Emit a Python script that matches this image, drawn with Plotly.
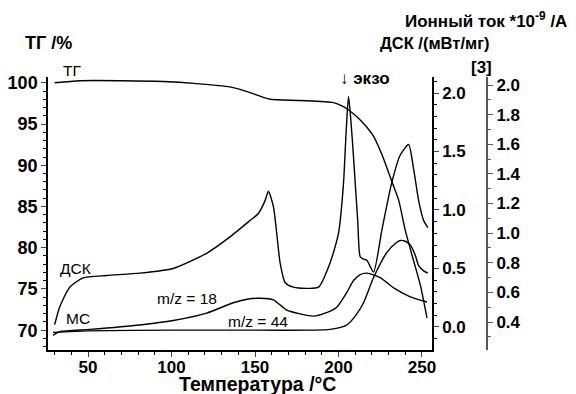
import plotly.graph_objects as go

# TG (%)
tg_T = [30, 45, 70, 95, 115, 135, 141, 150, 159, 177, 197, 203, 208, 213, 217, 221, 226, 232, 236, 240, 245, 249, 253]
tg_v = [100.0, 100.25, 100.25, 100.15, 99.9, 99.5, 99.2, 98.6, 98.0, 97.85, 97.6, 97.1, 96.4, 95.5, 94.6, 93.5, 91.3, 88.0, 85.8, 82.1, 78.4, 75.5, 71.5]

# DSC (mW/mg)
dsc_T = [30, 33, 39, 47, 61, 81, 101, 121, 135, 147, 152, 156, 158, 161, 163, 165, 168, 173, 182, 188, 195, 200, 203,
         204.5, 206, 207.5, 209, 211.5, 213, 215, 217, 221, 226, 232, 237, 242, 245, 248, 251, 253.5]
dsc_v = [0.02, 0.17, 0.34, 0.42, 0.44, 0.46, 0.50, 0.63, 0.77, 0.91, 0.97, 1.08, 1.16, 1.03, 0.80, 0.55, 0.38, 0.34, 0.33, 0.34,
         0.55, 0.80, 1.23, 1.65, 1.97, 1.75, 1.45, 0.91, 0.60, 0.58, 0.57, 0.47, 0.83, 1.24, 1.47, 1.56, 1.35, 1.08, 0.91, 0.85]

# MS m/z = 18 (ion current *1e-9 A)
ms18_T = [29, 33, 51, 81, 101, 121, 137, 146, 153, 161, 169, 177, 185, 192, 199, 205, 209, 213, 217, 225, 233, 243, 253]
ms18_v = [0.31, 0.335, 0.35, 0.38, 0.41, 0.46, 0.53, 0.555, 0.56, 0.55, 0.48, 0.455, 0.44, 0.46, 0.50, 0.60, 0.68, 0.72, 0.73, 0.70, 0.63, 0.57, 0.535]

# MS m/z = 44
ms44_T = [29, 50, 100, 150, 185, 195, 200, 205, 210, 215, 221, 229, 234, 237, 240, 243, 246, 248, 251, 253.5]
ms44_v = [0.33, 0.34, 0.345, 0.345, 0.345, 0.35, 0.36, 0.38, 0.44, 0.53, 0.70, 0.87, 0.93, 0.95, 0.945, 0.92, 0.85, 0.78, 0.745, 0.73]

x_ticks = [50, 100, 150, 200, 250]
tg_ticks = [70, 75, 80, 85, 90, 95, 100]
dsc_ticks = [0.0, 0.5, 1.0, 1.5, 2.0]
ion_ticks = [0.4, 0.6, 0.8, 1.0, 1.2, 1.4, 1.6, 1.8, 2.0]

FONT = "Liberation Sans, Arial, sans-serif"
line = dict(color="black", width=1.4, shape="spline", smoothing=0.6)

fig = go.Figure()
fig.add_trace(go.Scatter(x=tg_T, y=tg_v, mode="lines", line=line, yaxis="y", showlegend=False))
fig.add_trace(go.Scatter(x=dsc_T, y=dsc_v, mode="lines", line=line, yaxis="y2", showlegend=False))
fig.add_trace(go.Scatter(x=ms18_T, y=ms18_v, mode="lines", line=line, yaxis="y3", showlegend=False))
fig.add_trace(go.Scatter(x=ms44_T, y=ms44_v, mode="lines", line=line, yaxis="y3", showlegend=False))

fig.update_layout(
    width=568, height=386,
    margin=dict(l=40, r=72, t=69, b=44, autoexpand=False),
    paper_bgcolor="white", plot_bgcolor="white",
    font=dict(family=FONT, color="black"),
    xaxis=dict(domain=[0, 0.8421], range=[26, 256], tickvals=x_ticks, ticks="outside", ticklen=5,
               ticklabelstandoff=-4,
               showline=True, linecolor="black", linewidth=1.5, showgrid=False, zeroline=False, automargin=False,
               tickfont=dict(family=FONT, size=17, color="black", weight="bold"),
               minor=dict(dtick=10, ticks="outside", ticklen=3, tickcolor="black")),
    yaxis=dict(range=[67.6, 100.7], tickvals=tg_ticks, ticks="outside", ticklen=5, automargin=False,
               showline=True, linecolor="black", linewidth=1.5, showgrid=False, zeroline=False,
               tickfont=dict(family=FONT, size=18, color="black", weight="bold"),
               minor=dict(dtick=1, ticks="outside", ticklen=3, tickcolor="black")),
    yaxis2=dict(range=[-0.197, 2.137], tickvals=dsc_ticks, tickformat=".1f", ticks="outside", ticklen=5,
                overlaying="y", side="right", anchor="x", automargin=False,
                showline=True, linecolor="black", linewidth=1.5, showgrid=False, zeroline=False,
                tickfont=dict(family=FONT, size=17, color="black", weight="bold"),
                minor=dict(dtick=0.1, ticks="outside", ticklen=3, tickcolor="black")),
    yaxis3=dict(range=[0.211, 2.054], tickvals=ion_ticks, tickformat=".1f", ticks="outside", ticklen=5,
                overlaying="y", side="right", anchor="free", position=0.9627, automargin=False,
                showline=True, linecolor="#555555", linewidth=2, showgrid=False, zeroline=False,
                tickcolor="#555555",
                tickfont=dict(family=FONT, size=17, color="black", weight="bold"),
                minor=dict(dtick=0.1, ticks="outside", ticklen=3, tickcolor="#555555")),
)

def ann(text, x, y, size=16, xanchor="center", bold=False):
    fig.add_annotation(text=f"<b>{text}</b>" if bold else text, x=x, y=y, xref="paper", yref="paper",
                       xanchor=xanchor, yanchor="middle", showarrow=False,
                       font=dict(family=FONT, size=size, color="black"))

ann("ТГ /%", 0.001, 1.1245, size=18, bold=True)
ann("Ионный ток *10<sup>-9</sup> /A", 1.142, 1.21, size=17, xanchor="right", bold=True)
ann("ДСК /(мВт/мг)", 0.9737, 1.1245, size=16.5, xanchor="right", bold=True)
ann("[3]", 0.9496, 1.0366, size=17, bold=True)
ann("↓ <b>экзо</b>", 0.695, 0.996, size=17)
ann("ТГ", 0.0537, 1.0256, size=15.5)
ann("ДСК", 0.0614, 0.30, size=15.5)
ann("МС", 0.0658, 0.117, size=15.5)
ann("m/z = 18", 0.3048, 0.187, size=15.5)
ann("m/z = 44", 0.4605, 0.1026, size=15.5)
ann("Температура /°C", 0.4605, -0.124, size=19.5, bold=True)

fig.write_html("out.html")
